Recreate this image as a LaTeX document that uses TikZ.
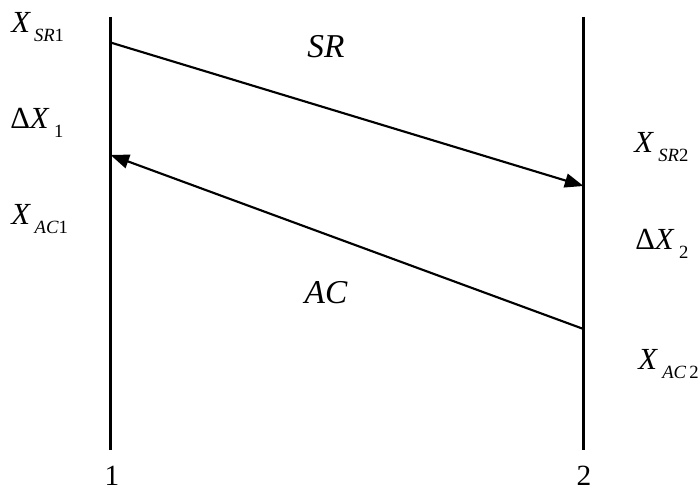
\documentclass[tikz,border=0pt]{standalone}
\usepackage{fontspec}
\setmainfont{Liberation Serif}
\usetikzlibrary{arrows.meta}
\newcommand{\bigsz}{\fontsize{23}{23}\selectfont}
\newcommand{\mainX}{{\bigsz\itshape X}}
\newcommand{\subsc}[1]{\raisebox{-6.5pt}{\fontsize{14}{14}\selectfont #1}}
\begin{document}
\begin{tikzpicture}[x=0.75pt,y=-0.75pt,
  life/.style={line width=1.6pt},
  msg/.style={line width=1.6pt,-{Triangle[length=14pt,width=10.5pt]}},
  lab/.style={inner sep=0pt,anchor=base west},
  big/.style={inner sep=0pt,anchor=base,font=\fontsize{25}{25}\selectfont\itshape},
  num/.style={inner sep=0pt,anchor=base,font=\fontsize{22}{22}\selectfont}]
\useasboundingbox (0,0) rectangle (700,491);
\coordinate (t1) at (110.5,17);
\coordinate (b1) at (110.5,450);
\coordinate (t2) at (583.5,17);
\coordinate (b2) at (583.5,450);
\draw[life] (t1) -- (b1);
\draw[life] (t2) -- (b2);
\coordinate (s1) at (110.5,42.5);
\coordinate (s2) at (583.5,186);
\coordinate (a2) at (583.5,329);
\coordinate (a1) at (110.5,155);
\draw[msg] (s1) -- (s2);
\draw[msg] (a2) -- (a1);
\node[big] (sr) at (326,58) {SR};
\node[big] (ac) at (326,304) {AC};
\node[num] (n1) at (112,486) {1};
\node[num] (n2) at (584,486) {2};
\node[lab] (xsr1) at (11,33) {\mainX\hspace{3pt}\subsc{\itshape SR\upshape 1}};
\node[lab] (dx1) at (10,129) {\bigsz Δ\itshape X\hspace{4pt}\subsc{\upshape 1}};
\node[lab] (xac1) at (11,225) {\mainX\hspace{3.5pt}\subsc{\itshape AC\upshape 1}};
\node[lab] (xsr2) at (634,153) {\mainX\hspace{4pt}\subsc{\itshape SR\upshape 2}};
\node[lab] (dx2) at (635,250) {\bigsz Δ\itshape X\hspace{4pt}\subsc{\upshape 2}};
\node[lab] (xac2) at (638,370) {\mainX\hspace{4pt}\subsc{\itshape AC\,\upshape 2}};
\end{tikzpicture}
\end{document}
